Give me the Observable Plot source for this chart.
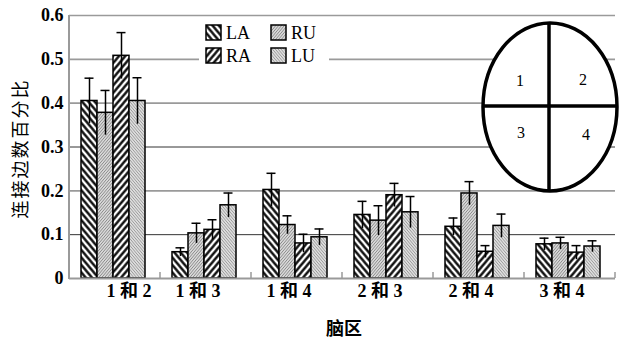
<!DOCTYPE html>
<html><head><meta charset="utf-8">
<script src="https://cdn.jsdelivr.net/npm/d3@7"></script>
<script src="https://cdn.jsdelivr.net/npm/@observablehq/plot@0.6"></script>
<style>
body{margin:0;background:#fff}
#chart{position:relative;width:624px;height:339px}
</style></head><body><div id="chart"></div>
<script>
// ---- data ----
const groups = ["1 和 2","1 和 3","1 和 4","2 和 3","2 和 4","3 和 4"];
const series = ["LA","RU","RA","LU"];
const valuesLA = [0.405,0.060,0.202,0.145,0.118,0.078];
const valuesRU = [0.378,0.103,0.122,0.132,0.194,0.080];
const valuesRA = [0.508,0.111,0.080,0.190,0.061,0.059];
const valuesLU = [0.405,0.167,0.094,0.151,0.120,0.073];
const errLA = [0.052,0.010,0.038,0.031,0.020,0.014];
const errRU = [0.051,0.023,0.021,0.034,0.027,0.014];
const errRA = [0.053,0.023,0.021,0.027,0.014,0.016];
const errLU = [0.053,0.028,0.019,0.036,0.027,0.013];
const yTicks = [0,0.1,0.2,0.3,0.4,0.5,0.6];
const regions = ["1","2","3","4"];
const yTitle = "连接边数百分比";
const xTitle = "脑区";

const vals = {LA: valuesLA, RU: valuesRU, RA: valuesRA, LU: valuesLU};
const errs = {LA: errLA, RU: errRU, RA: errRA, LU: errLU};
const rows = [];
groups.forEach((g, i) => series.forEach(s => rows.push({group: g, series: s, value: vals[s][i], err: errs[s][i]})));

// ---- patterns ----
const defsSvg = d3.select("body").insert("svg", "#chart").attr("width", 0).attr("height", 0)
  .style("position", "absolute");
const defs = defsSvg.append("defs");
function stripes(id, angle, period, sw, color, bg) {
  const p = defs.append("pattern").attr("id", id).attr("patternUnits", "userSpaceOnUse")
    .attr("width", period).attr("height", period).attr("patternTransform", `rotate(${angle})`);
  p.append("rect").attr("width", period).attr("height", period).attr("fill", bg);
  p.append("line").attr("x1", period / 2).attr("y1", -1).attr("x2", period / 2).attr("y2", period + 1)
    .attr("stroke", color).attr("stroke-width", sw);
}
stripes("pLA", -40, 4.8, 2.3, "#000", "#fff");
stripes("pRA", 40, 4.8, 2.3, "#000", "#fff");
stripes("pRU", 40, 2.2, 0.9, "#8a8a8a", "#e2e2e2");
stripes("pLU", -40, 2.2, 0.9, "#9a9a9a", "#e6e6e6");
const patternOf = s => `url(#p${s})`;

const serif = '"Liberation Serif","Noto Sans CJK SC",serif';
const labelOpts = {fx: d => d, text: d => d, frameAnchor: "bottom", lineAnchor: "top", dy: 6,
  fontSize: 18, fontWeight: "bold", fontFamily: serif, fill: "#000"};

const plot = Plot.plot({
  width: 624, height: 339,
  marginLeft: 69, marginRight: 9, marginTop: 15, marginBottom: 61,
  style: {fontFamily: serif, background: "transparent", overflow: "visible", color: "#000"},
  fx: {domain: groups, padding: 0, label: null, axis: null},
  x: {domain: series, paddingInner: 0, paddingOuter: 0.758, align: 0.44, axis: null},
  y: {domain: [0, 0.6], label: null},
  color: {type: "identity"},
  marks: [
    Plot.ruleY(yTicks.filter(t => t > 0), {
      stroke: t => (t === 0.1 || t === 0.3) ? "#333" : "#9a9a9a",
      strokeWidth: t => (t === 0.1 || t === 0.3) ? 1 : 1.6
    }),
    Plot.barY(rows, {fx: "group", x: "series", y: "value", fill: d => patternOf(d.series), stroke: "#000", strokeWidth: 1.5}),
    Plot.ruleX(rows, {fx: "group", x: "series", y1: d => d.value - d.err, y2: d => d.value + d.err, stroke: "#000", strokeWidth: 1.5}),
    Plot.tickY(rows, {fx: "group", x: "series", y: d => d.value + d.err, stroke: "#000", strokeWidth: 1.5, insetLeft: 3.5, insetRight: 3.5}),
    Plot.ruleY([0], {stroke: "#9a9a9a", strokeWidth: 2.2}),
    Plot.axisY(yTicks, {tickSize: 0, tickPadding: 6, tickFormat: d => d === 0 ? "0" : d.toFixed(1),
      fontSize: 18, fontWeight: "bold", fontFamily: serif, label: null}),
    Plot.text(groups.slice(0, 1), {...labelOpts, dx: 14}),
    Plot.text(groups.slice(1), {...labelOpts, dx: -8})
  ]
});
document.getElementById("chart").appendChild(plot);

// ---- decorations via scales ----
const svg = d3.select(plot);
const fx = plot.scale("fx");
const y = plot.scale("y");
const bw = fx.bandwidth;
const x0 = fx.apply(groups[0]);
const xEnd = fx.apply(groups[groups.length - 1]) + bw;
const yTop = y.apply(0.6), yBase = y.apply(0);

// left axis line
svg.append("line").attr("x1", x0).attr("x2", x0).attr("y1", yTop).attr("y2", yBase + 1)
  .attr("stroke", "#9a9a9a").attr("stroke-width", 2);
// boundary ticks
groups.slice(1).map(g => fx.apply(g)).concat([xEnd]).forEach(bx => {
  svg.append("line").attr("x1", bx).attr("x2", bx).attr("y1", yBase - 6).attr("y2", yBase)
    .attr("stroke", "#9a9a9a").attr("stroke-width", 1.5);
});

// axis titles
svg.append("text").attr("transform", `translate(22,${(yTop + yBase) / 2 + 2}) rotate(-90)`)
  .attr("text-anchor", "middle").attr("dominant-baseline", "middle")
  .attr("font-family", '"Noto Sans CJK SC",sans-serif').attr("font-size", 18).attr("letter-spacing", 2)
  .text(yTitle);
svg.append("text").attr("x", (x0 + xEnd) / 2 + 2).attr("y", 330)
  .attr("text-anchor", "middle").attr("dominant-baseline", "middle")
  .attr("font-family", '"Noto Sans CJK SC",sans-serif').attr("font-size", 18).attr("font-weight", "bold")
  .text(xTitle);

// legend
const lg = svg.append("g");
lg.append("rect").attr("x", 199).attr("y", 20).attr("width", 130).attr("height", 48).attr("fill", "#fff");
const legendPos = {LA: [206, 25], RU: [271, 25], RA: [206, 48], LU: [271, 48]};
series.forEach(s => {
  const [lx, ly] = legendPos[s];
  lg.append("rect").attr("x", lx).attr("y", ly).attr("width", 15).attr("height", 15)
    .attr("fill", patternOf(s)).attr("stroke", "#000").attr("stroke-width", 1.5);
  lg.append("text").attr("x", lx + 20).attr("y", ly + 13.5).attr("text-anchor", "start")
    .attr("font-family", serif).attr("font-size", 18).text(s);
});

// brain region inset
const ins = svg.append("g");
const cx = 550, cy = 107, rx = 67, ry = 84;
ins.append("ellipse").attr("cx", cx).attr("cy", cy).attr("rx", rx).attr("ry", ry)
  .attr("fill", "#fff").attr("stroke", "#000").attr("stroke-width", 3.5);
ins.append("line").attr("x1", cx - rx).attr("x2", cx + rx).attr("y1", cy - 1).attr("y2", cy - 1)
  .attr("stroke", "#000").attr("stroke-width", 3.5);
ins.append("line").attr("x1", cx - 1).attr("x2", cx - 1).attr("y1", cy - ry).attr("y2", cy + ry)
  .attr("stroke", "#000").attr("stroke-width", 3.5);
const regPos = [[520, 82], [583, 81], [521, 134], [586, 136]];
regions.forEach((r, i) => {
  ins.append("text").attr("x", regPos[i][0]).attr("y", regPos[i][1]).attr("text-anchor", "middle")
    .attr("dominant-baseline", "middle").attr("font-family", serif).attr("font-size", 16).text(r);
});
</script></body></html>
